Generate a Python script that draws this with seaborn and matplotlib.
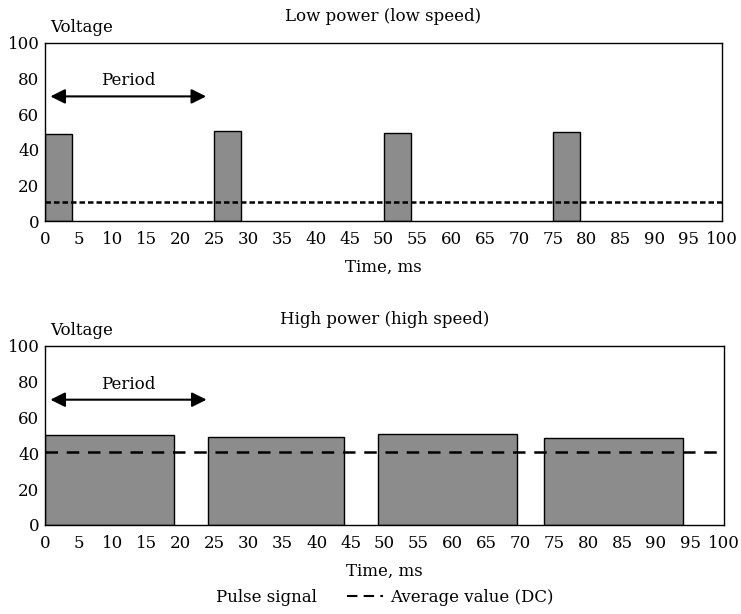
import matplotlib
matplotlib.use("Agg")
import matplotlib.pyplot as plt
import seaborn as sns
import pandas as pd
from matplotlib.patches import Patch
from matplotlib.lines import Line2D

sns.set_theme(style="white")
plt.rcParams['font.family'] = ['DejaVu Serif', 'Liberation Serif']
plt.rcParams.update({'text.color': 'black', 'axes.labelcolor': 'black',
                     'xtick.color': 'black', 'ytick.color': 'black'})

# Low power (low speed)
low_starts = [0, 25, 50, 75]
low_widths = [4, 4, 4, 4]
low_heights = [48.9, 50.6, 49.3, 50.2]
low_avg = 10.5

# High power (high speed)
high_starts = [0, 24, 49, 73.5]
high_widths = [19, 20, 20.5, 20.5]
high_heights = [50.4, 49.0, 50.7, 48.8]
high_avg = 40.5

period_span = [0.8, 23.8]
period_y = 70

xticks = list(range(0, 101, 5))
yticks = list(range(0, 101, 20))

fig = plt.figure(figsize=(7.41, 6.14), dpi=100)
ax1 = fig.add_axes([0.0607, 0.640, 0.9137, 0.290])
ax2 = fig.add_axes([0.0607, 0.145, 0.9163, 0.2915])

FS = 12

def draw(ax, starts, widths, heights, avg, title, dashes):
    ax.bar(starts, heights, width=widths, align='edge', color='#8c8c8c',
           edgecolor='black', linewidth=1.0, zorder=2)
    df = pd.DataFrame({'x': [0, 100], 'y': [avg, avg]})
    sns.lineplot(data=df, x='x', y='y', ax=ax, color='black', linewidth=1.8,
                 dashes=False, zorder=3)
    ax.lines[-1].set_dashes(dashes)
    ax.annotate('', xy=(period_span[0], period_y), xytext=(period_span[1], period_y),
                arrowprops=dict(arrowstyle='<|-|>', color='black', lw=1.5,
                                mutation_scale=22, shrinkA=0, shrinkB=0))
    ax.text(sum(period_span) / 2, period_y + 4, 'Period', ha='center', va='bottom', fontsize=FS)
    ax.set_xlim(0, 100)
    ax.set_ylim(0, 100)
    ax.set_xticks(xticks)
    ax.set_yticks(yticks)
    ax.set_xticklabels([str(t) for t in xticks], fontsize=FS)
    ax.set_yticklabels([str(t) for t in yticks], fontsize=FS)
    ax.tick_params(axis='x', length=0, pad=7)
    ax.tick_params(axis='y', length=0, pad=4)
    for s in ax.spines.values():
        s.set_visible(True)
        s.set_color('black')
        s.set_linewidth(1.0)
    ax.set_xlabel('Time, ms', fontsize=FS, labelpad=8)
    ax.set_ylabel('')
    ax.set_title(title, fontsize=FS, pad=16)
    ax.text(0.007, 1.04, 'Voltage', transform=ax.transAxes, ha='left', va='bottom', fontsize=FS)

draw(ax1, low_starts, low_widths, low_heights, low_avg, 'Low power (low speed)', (2.2, 1.2))
draw(ax2, high_starts, high_widths, high_heights, high_avg, 'High power (high speed)', (5, 3.5))

handles = [Patch(facecolor='none', edgecolor='none'),
           Line2D([0], [0], color='black', lw=1.5, dashes=(5, 3))]
fig.legend(handles, ['Pulse signal', 'Average value (DC)'], loc='center',
           bbox_to_anchor=(0.49, 0.027), ncol=2, frameon=False, fontsize=FS,
           handlelength=2.2, columnspacing=1.8, handletextpad=0.4)

fig.savefig('out.png', dpi=100)
